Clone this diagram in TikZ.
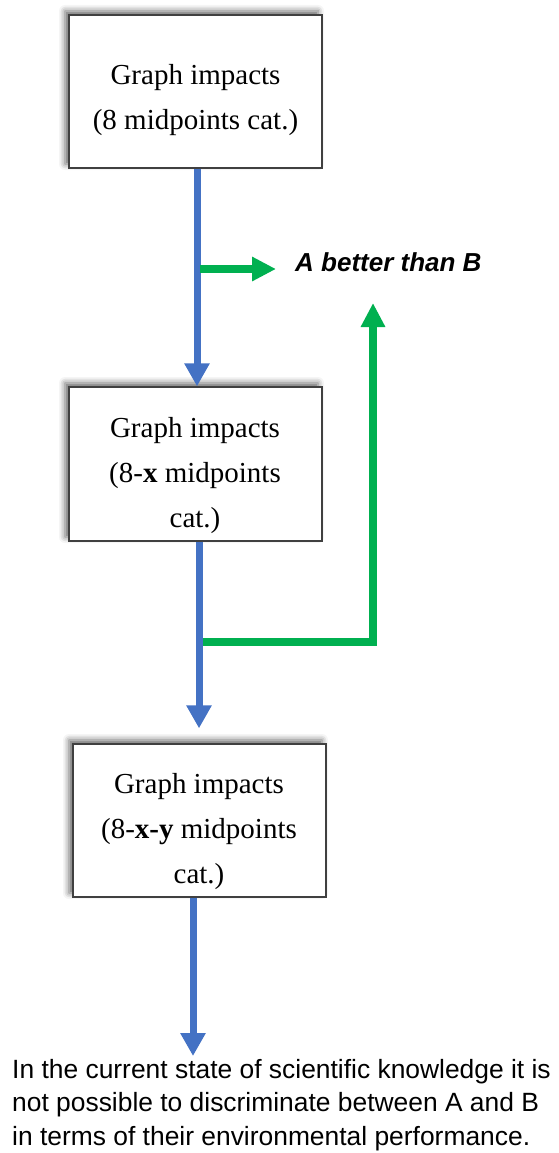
\documentclass[tikz,border=0pt]{standalone}
\usepackage{fontspec}
\setmainfont{Liberation Serif}
\newfontfamily\arialfont{Liberation Sans}
\usetikzlibrary{arrows.meta,shadows.blur}
\definecolor{flowblue}{HTML}{4472C4}
\definecolor{flowgreen}{HTML}{00B050}
\definecolor{boxedge}{HTML}{404040}
\tikzset{
  stagebox/.style={draw=boxedge, line width=1.3pt, fill=white, minimum width=253pt, inner sep=0pt,
    blur shadow={shadow xshift=-4pt, shadow yshift=4pt, shadow blur radius=6pt, shadow opacity=60}},
  boxtext/.style={align=center, inner sep=0pt, anchor=base, font=\fontsize{29}{45}\selectfont},
  bluearrow/.style={draw=flowblue, line width=7pt, -{Triangle[length=23pt,width=24pt]}},
  greenarrow/.style={draw=flowgreen, line width=8pt, line join=miter, -{Triangle[length=24pt,width=23pt]}},
}
\begin{document}
\begin{tikzpicture}[x=1pt,y=1pt]
\useasboundingbox (0,0) rectangle (559,-1153);
% boxes
\node[stagebox, minimum height=153pt] (b1) at (195.5,-91.5) {};
\node[stagebox, minimum height=154pt] (b2) at (195.5,-464) {};
\node[stagebox, minimum height=153pt] (b3) at (199.5,-820.5) {};
% box texts (base anchor = last line)
\node[boxtext] (t1) at (195.5,-130) {Graph impacts\\(8 midpoints cat.)};
\node[boxtext] (t2) at (195,-527) {Graph impacts\\(8-\textbf{x} midpoints\\cat.)};
\node[boxtext] (t3) at (199,-883) {Graph impacts\\(8-\textbf{x-y} midpoints\\cat.)};
% outcome texts
\node[anchor=base west, inner sep=0pt, font=\arialfont\bfseries\itshape\fontsize{26}{30}\selectfont] (better) at (295,-271) {A better than B};
\node[anchor=base west, inner sep=0pt, align=left, font=\arialfont\fontsize{26.4}{33.5}\selectfont] (none) at (12,-1145)
  {In the current state of scientific knowledge it is\\not possible to discriminate between A and B\\in terms of their environmental performance.};
% coordinates
\coordinate (g1s) at (200,-269);
\coordinate (g2s) at (203,-642);
\coordinate (g2c) at (373,-642);
\coordinate (g2e) at (373,-303);
\coordinate (b3e) at (193,-1056);
% blue flow
\draw[bluearrow] ([xshift=1.5pt]b1.south) -- ([xshift=1.5pt]b2.north);
\draw[bluearrow, shorten >=15pt] ([xshift=3.5pt]b2.south) -- ([xshift=-0.5pt]b3.north);
\draw[bluearrow] ([xshift=-6.5pt]b3.south) -- (b3e);
% green flow
\draw[greenarrow, shorten >=19pt] (g1s) -- (g1s -| better.west);
\draw[greenarrow] (g2s) -- (g2c) -- (g2e);
\end{tikzpicture}
\end{document}
